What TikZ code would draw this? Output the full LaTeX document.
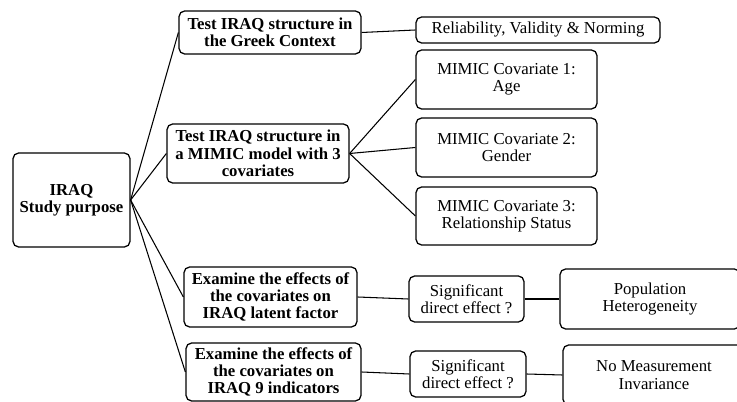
\documentclass[tikz,border=0pt]{standalone}
\usepackage{fontspec}
\setmainfont{Liberation Serif}
\usepackage{tikz}
\usetikzlibrary{positioning,calc}

\begin{document}
\begin{tikzpicture}[font=\fontsize{11.9}{12.4}\selectfont,
   bx/.style={draw,line width=0.9pt,rounded corners=4pt,align=center,inner sep=1pt},
   bbx/.style={bx,font=\fontsize{11.9}{12.4}\selectfont\bfseries},
   ln/.style={line width=0.75pt}]
  \useasboundingbox (0,0) rectangle (18.425,10.05);
  \clip (0,0) rectangle (18.425,10.05);
  % root and the four aims
  \node[bbx,minimum width=2.925cm,minimum height=2.35cm] (root) at (1.7875,5.05) {IRAQ\\Study purpose};
  \node[bbx,minimum width=4.55cm,minimum height=1.075cm] (pa) at (6.75,9.2375) {Test IRAQ structure in\\the Greek Context};
  \node[bbx,minimum width=4.55cm,minimum height=1.475cm] (pb) at (6.45,6.2125) {Test IRAQ structure in\\a MIMIC model with 3\\covariates};
  \node[bbx,minimum width=4.325cm,minimum height=1.5cm] (pc) at (6.7625,2.625) {Examine the effects of\\the covariates on\\IRAQ latent factor};
  \node[bbx,minimum width=4.375cm,minimum height=1.45cm] (pd) at (6.8375,0.75) {Examine the effects of\\the covariates on\\IRAQ 9 indicators};
  % right column
  \node[bx,minimum width=6.1cm,minimum height=0.65cm] (rel) at (13.45,9.3) {Reliability, Validity \& Norming};
  \node[bx,minimum width=4.525cm,minimum height=1.475cm] (m1) at (12.6625,8.0625) {MIMIC Covariate 1:\\Age};
  \node[bx,minimum width=4.525cm,minimum height=1.475cm] (m2) at (12.6625,6.3625) {MIMIC Covariate 2:\\Gender};
  \node[bx,minimum width=4.525cm,minimum height=1.45cm] (m3) at (12.6625,4.65) {MIMIC Covariate 3:\\Relationship Status};
  \node[bx,minimum width=2.875cm,minimum height=1.15cm] (s1) at (11.6625,2.575) {Significant\\direct effect ?};
  \node[bx,minimum width=2.9cm,minimum height=1.15cm] (s2) at (11.7,0.7) {Significant\\direct effect ?};
  \node[bx,minimum width=4.5cm,minimum height=1.5cm] (het) at (16.25,2.575) {Population\\Heterogeneity};
  \node[bx,minimum width=4.55cm,minimum height=1.5cm] (inv) at (16.35,0.675) {No Measurement\\Invariance};
  % connectors
  \foreach \t in {pa,pb,pc,pd} \draw[ln] (root.east)--(\t.west);
  \draw[ln] (pa.east)--(rel.west);
  \foreach \t in {m1,m2,m3} \draw[ln] (pb.east)--(\t.west);
  \draw[ln] (pc.east)--(s1.west); \draw[ln] (s1.east)--(het.west);
  \draw[ln] (pd.east)--(s2.west); \draw[ln] (s2.east)--(inv.west);
\end{tikzpicture}
\end{document}
